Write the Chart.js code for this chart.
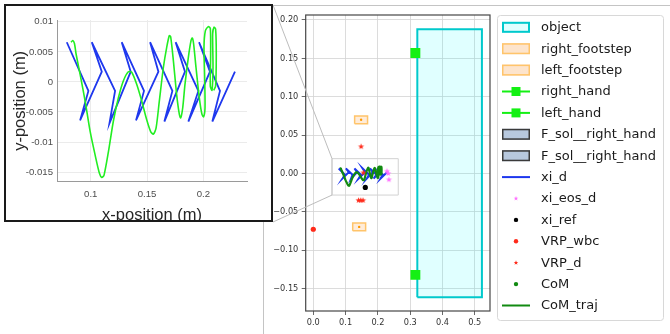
<!DOCTYPE html>
<html><head><meta charset="utf-8">
<script src="https://cdn.jsdelivr.net/npm/chart.js@4.4.0/dist/chart.umd.min.js"></script>
<style>
html,body{margin:0;padding:0;background:#fff;}
body{width:670px;height:334px;position:relative;overflow:hidden;}
#main{position:absolute;left:0;top:0;}
#insetBox{position:absolute;left:4px;top:4px;width:265px;height:214px;border:2px solid #1a1a1a;background:#fff;overflow:hidden;}
#inset{position:absolute;left:0;top:0;}
</style></head><body>
<canvas id="main" width="670" height="334"></canvas>
<div id="insetBox"><canvas id="inset" width="265" height="214"></canvas></div>
<script>
// ---------------- data ----------------
// xi_d (desired DCM) trajectory
const xiX = [0.0787,0.0979,0.0905,0.1098,0.1009,0.1216,0.1166,0.1355,0.1275,0.1473,0.1402,0.1601,0.1527,0.1725,0.1654,0.1837,0.1754,0.1956,0.1867,0.2059,0.1962,0.2148,0.2080,0.2281];
const xiY = [0.0066,-0.0015,-0.0064,0.0017,0.0066,-0.0015,-0.0069,0.0017,0.0066,-0.0015,-0.0064,0.0017,0.0066,-0.0015,-0.0066,0.0017,0.0066,-0.0015,-0.0066,0.0017,0.0066,-0.0015,-0.0066,0.0017];
// CoM trajectory
const comX = [0.0825,0.0840,0.0855,0.0870,0.0905,0.0950,0.0994,0.1038,0.1077,0.1098,0.1118,0.1157,0.1201,0.1246,0.1290,0.1334,0.1364,0.1408,0.1453,0.1497,0.1533,0.1556,0.1580,0.1609,0.1645,0.1675,0.1698,0.1710,0.1734,0.1763,0.1787,0.1799,0.1817,0.1837,0.1867,0.1891,0.1902,0.1914,0.1935,0.1964,0.1988,0.2003,0.2015,0.2012,0.2006,0.2018,0.2044,0.2062,0.2065,0.2062,0.2077,0.2086,0.2083,0.2095,0.2109,0.2115,0.2109,0.2092];
const comY = [0.0066,0.0069,0.0064,0.0046,0.0013,-0.0032,-0.0082,-0.0121,-0.0152,-0.0159,-0.0155,-0.0116,-0.0065,-0.0026,0.0002,0.0017,0.0016,-0.0004,-0.0032,-0.0063,-0.0083,-0.0087,-0.0077,-0.0032,0.0024,0.0058,0.0077,0.0075,0.0035,-0.0021,-0.0054,-0.0060,-0.0043,-0.0004,0.0041,0.0069,0.0073,0.0063,0.0024,-0.0026,-0.0054,-0.0058,-0.0043,0.0007,0.0058,0.0085,0.0092,0.0089,0.0046,-0.0007,-0.0014,0.0024,0.0080,0.0091,0.0088,0.0046,-0.0007,-0.0014];
// markers (x, y)
const handX = [0.316, 0.316];
const handY = [0.157, -0.132];
const vrpWbcX = [0.0];
const vrpWbcY = [-0.0725];
const vrpDX = [0.148, 0.140, 0.147, 0.154, 0.155];
const vrpDY = [0.035, -0.035, -0.035, -0.035, 0.001];
const xiEosX = [0.232, 0.234, 0.228];
const xiEosY = [0.000, -0.008, 0.003];
const xiRefX = [0.161];
const xiRefY = [-0.018];
const comDotX = [0.200];
const comDotY = [0.002];
const footCenterX = [0.148, 0.142];
const footCenterY = [0.070, -0.0695];
// rectangles [xmin, ymin, xmax, ymax]
const objectRect = [0.322, -0.161, 0.522, 0.188];
const rightFootRect = [0.122, -0.0745, 0.162, -0.0645];
const leftFootRect = [0.128, 0.065, 0.168, 0.075];
const zoomRect = [0.058, -0.028, 0.263, 0.0194];
// axes
const mainXTicks = [0.0, 0.1, 0.2, 0.3, 0.4, 0.5];
const mainXLabels = ['0.0', '0.1', '0.2', '0.3', '0.4', '0.5'];
const mainYTicks = [-0.15, -0.10, -0.05, 0.00, 0.05, 0.10, 0.15, 0.20];
const mainYLabels = ['\u22120.15', '\u22120.10', '\u22120.05', '0.00', '0.05', '0.10', '0.15', '0.20'];
const insetXTicks = [0.1, 0.15, 0.2];
const insetXLabels = ['0.1', '0.15', '0.2'];
const insetYTicks = [-0.015, -0.01, -0.005, 0, 0.005, 0.01];
const insetYLabels = ['-0.015', '-0.01', '-0.005', '0', '0.005', '0.01'];
const legendLabels = ['object', 'right_footstep', 'left_footstep', 'right_hand', 'left_hand', 'F_sol__right_hand', 'F_sol__right_hand', 'xi_d', 'xi_eos_d', 'xi_ref', 'VRP_wbc', 'VRP_d', 'CoM', 'CoM_traj'];

// ---------------- helpers ----------------
const pts = (xs, ys) => xs.map((x, i) => ({x: x, y: ys[i]}));
const rectPts = r => [{x:r[0],y:r[1]},{x:r[2],y:r[1]},{x:r[2],y:r[3]},{x:r[0],y:r[3]},{x:r[0],y:r[1]}];
function starPath(g, cx, cy, r) {
  g.beginPath();
  for (let i = 0; i < 10; i++) {
    const a = -Math.PI / 2 + i * Math.PI / 5;
    const rr = i % 2 ? r * 0.42 : r;
    const px = cx + rr * Math.cos(a), py = cy + rr * Math.sin(a);
    if (i) g.lineTo(px, py); else g.moveTo(px, py);
  }
  g.closePath();
}
function makeStar(color, r) {
  const c = document.createElement('canvas');
  const s = Math.ceil(r * 2 + 2);
  c.width = s; c.height = s;
  const g = c.getContext('2d');
  g.fillStyle = color; starPath(g, s / 2, s / 2, r); g.fill();
  return c;
}
const C = {
  cyan: '#00c9cc', cyanFill: 'rgba(0,255,255,0.12)',
  orange: '#ffc46a', orangeFill: 'rgba(255,170,80,0.22)',
  lime: '#14f014', blue: '#1c36ee', green: '#118a11',
  red: '#ff2a1a', pink: '#ff70ff', black: '#000'
};
const redStar = makeStar(C.red, 3.2);
const pinkStar = makeStar(C.pink, 3.2);

// ---------------- plugins ----------------
const bgPlugin = {
  id: 'bg',
  beforeDraw(chart) {
    const ctx = chart.ctx;
    ctx.save();
    ctx.fillStyle = '#fff';
    ctx.fillRect(0, 0, chart.width, chart.height);
    ctx.strokeStyle = '#c4c4c4'; ctx.lineWidth = 1;
    ctx.beginPath();
    ctx.moveTo(263.5, 5); ctx.lineTo(263.5, 334);
    ctx.moveTo(263, 5.5); ctx.lineTo(670, 5.5);
    ctx.stroke();
    ctx.restore();
  }
};
const spinePlugin = {
  id: 'spines',
  afterDatasetsDraw(chart) {
    const a = chart.chartArea, ctx = chart.ctx;
    ctx.save();
    ctx.strokeStyle = '#474747'; ctx.lineWidth = 1.2;
    ctx.strokeRect(a.left, a.top, a.right - a.left, a.bottom - a.top);
    ctx.restore();
  }
};
const connectorPlugin = {
  id: 'connectors',
  afterDraw(chart) {
    const sx = chart.scales.x, sy = chart.scales.y, ctx = chart.ctx;
    const x0 = sx.getPixelForValue(zoomRect[0]);
    const yTop = sy.getPixelForValue(zoomRect[3]);
    const yBot = sy.getPixelForValue(zoomRect[1]);
    ctx.save();
    ctx.strokeStyle = '#bdbdbd'; ctx.lineWidth = 1;
    ctx.beginPath();
    ctx.moveTo(273, 5); ctx.lineTo(x0, yTop);
    ctx.moveTo(273, 222); ctx.lineTo(x0, yBot);
    ctx.stroke();
    ctx.restore();
  }
};
function drawHandle(ctx, kind, x0, x1, cy) {
  const xm = (x0 + x1) / 2;
  ctx.save();
  if (kind === 'object' || kind === 'foot' || kind === 'fsol') {
    const fill = kind === 'object' ? '#e0ffff' : kind === 'foot' ? '#fde4cc' : '#b7c8de';
    const stroke = kind === 'object' ? C.cyan : kind === 'foot' ? C.orange : '#3a3a3a';
    const lw = kind === 'object' ? 2 : kind === 'foot' ? 1.5 : 1.5;
    ctx.fillStyle = fill; ctx.fillRect(x0, cy - 5.5, x1 - x0, 11);
    ctx.strokeStyle = stroke; ctx.lineWidth = lw;
    ctx.strokeRect(x0 + lw / 2, cy - 5.5 + lw / 2, x1 - x0 - lw, 11 - lw);
  } else if (kind === 'hand') {
    ctx.strokeStyle = C.lime; ctx.lineWidth = 2;
    ctx.beginPath(); ctx.moveTo(x0, cy); ctx.lineTo(x1, cy); ctx.stroke();
    ctx.fillStyle = C.lime; ctx.fillRect(xm - 4.5, cy - 4.5, 9, 9);
  } else if (kind === 'xid' || kind === 'comtraj') {
    ctx.strokeStyle = kind === 'xid' ? C.blue : C.green; ctx.lineWidth = 2;
    ctx.beginPath(); ctx.moveTo(x0, cy); ctx.lineTo(x1, cy); ctx.stroke();
  } else if (kind === 'pinkstar' || kind === 'redstar') {
    ctx.fillStyle = kind === 'pinkstar' ? C.pink : C.red;
    starPath(ctx, xm, cy, 2.4); ctx.fill();
  } else {
    ctx.fillStyle = kind === 'black' ? C.black : kind === 'red' ? C.red : C.green;
    ctx.beginPath(); ctx.arc(xm, cy, 2.2, 0, Math.PI * 2); ctx.fill();
  }
  ctx.restore();
}
const legendKinds = ['object', 'foot', 'foot', 'hand', 'hand', 'fsol', 'fsol', 'xid', 'pinkstar', 'black', 'red', 'redstar', 'greendot', 'comtraj'];
const legendPlugin = {
  id: 'legendBox',
  afterDraw(chart) {
    const ctx = chart.ctx;
    ctx.save();
    const bx = 497.5, by = 15.5, bw = 166, bh = 305, r = 3;
    ctx.beginPath();
    ctx.moveTo(bx + r, by); ctx.lineTo(bx + bw - r, by); ctx.arcTo(bx + bw, by, bx + bw, by + r, r);
    ctx.lineTo(bx + bw, by + bh - r); ctx.arcTo(bx + bw, by + bh, bx + bw - r, by + bh, r);
    ctx.lineTo(bx + r, by + bh); ctx.arcTo(bx, by + bh, bx, by + bh - r, r);
    ctx.lineTo(bx, by + r); ctx.arcTo(bx, by, bx + r, by, r); ctx.closePath();
    ctx.fillStyle = '#fff'; ctx.fill();
    ctx.strokeStyle = '#d8d8d8'; ctx.lineWidth = 1; ctx.stroke();
    legendLabels.forEach((lab, i) => {
      const cy = 27.3 + 21.4 * i;
      drawHandle(ctx, legendKinds[i], 502, 530, cy);
      ctx.fillStyle = '#1a1a1a';
      ctx.font = '13px "DejaVu Sans"';
      ctx.textBaseline = 'middle'; ctx.textAlign = 'left';
      ctx.fillText(lab, 541, cy + 0.5);
    });
    ctx.restore();
  }
};

// ---------------- main chart ----------------
const tickFontMain = {family: 'DejaVu Sans', size: 8.2};
new Chart(document.getElementById('main'), {
  type: 'line',
  data: {
    datasets: [
      {label: 'hands', data: pts(handX, handY), showLine: false, pointStyle: 'rect', pointRadius: 7, backgroundColor: C.lime, borderColor: C.lime, borderWidth: 0},
      {label: 'VRP_wbc', data: pts(vrpWbcX, vrpWbcY), showLine: false, pointRadius: 2.6, backgroundColor: C.red, borderColor: C.red, borderWidth: 0},
      {label: 'VRP_d', data: pts(vrpDX, vrpDY), showLine: false, pointStyle: redStar, pointRadius: 3},
      {label: 'xi_eos_d', data: pts(xiEosX, xiEosY), showLine: false, pointStyle: pinkStar, pointRadius: 3},
      {label: 'xi_ref', data: pts(xiRefX, xiRefY), showLine: false, pointRadius: 2.6, backgroundColor: C.black, borderColor: C.black, borderWidth: 0},
      {label: 'CoM', data: pts(comDotX, comDotY), showLine: false, pointRadius: 2.2, backgroundColor: C.green, borderColor: C.green, borderWidth: 0},
      {label: 'CoM_traj', data: pts(comX, comY), borderColor: C.green, borderWidth: 2.2, pointRadius: 0, tension: 0.25, fill: false},
      {label: 'xi_d', data: pts(xiX, xiY), borderColor: C.blue, borderWidth: 2, pointRadius: 0, tension: 0, fill: false},
      {label: 'foot centers', data: pts(footCenterX, footCenterY), showLine: false, pointRadius: 1.2, backgroundColor: '#ff9a00', borderWidth: 0},
      {label: 'right_footstep', data: rectPts(rightFootRect), borderColor: C.orange, borderWidth: 1.5, backgroundColor: C.orangeFill, fill: 'shape', pointRadius: 0, tension: 0},
      {label: 'left_footstep', data: rectPts(leftFootRect), borderColor: C.orange, borderWidth: 1.5, backgroundColor: C.orangeFill, fill: 'shape', pointRadius: 0, tension: 0},
      {label: 'object', data: rectPts(objectRect), borderColor: C.cyan, borderWidth: 2, backgroundColor: C.cyanFill, fill: 'shape', pointRadius: 0, tension: 0},
      {label: 'zoom', data: rectPts(zoomRect), borderColor: '#d2d2d2', borderWidth: 1, fill: false, pointRadius: 0, tension: 0}
    ]
  },
  options: {
    responsive: false, animation: false,
    layout: {padding: {left: 265.7, right: 180, top: 15, bottom: 3}},
    plugins: {legend: {display: false}, tooltip: {enabled: false}},
    scales: {
      x: {
        type: 'linear', min: -0.0235, max: 0.547,
        afterBuildTicks(s) { s.ticks = mainXTicks.map(v => ({value: v})); },
        afterFit(s) { s.height = 20; },
        ticks: {autoSkip: false, maxRotation: 0, font: tickFontMain, color: '#333', padding: 3, callback: (v, i) => mainXLabels[i]},
        grid: {color: '#d3d3d3', lineWidth: 0.8, drawTicks: true, tickLength: 4, tickColor: '#444'},
        border: {display: false}
      },
      y: {
        type: 'linear', min: -0.179, max: 0.2065,
        afterBuildTicks(s) { s.ticks = mainYTicks.map(v => ({value: v})); },
        afterFit(s) { s.width = 40; },
        ticks: {autoSkip: false, font: tickFontMain, color: '#333', padding: 3.4, callback: (v, i) => mainYLabels[i]},
        grid: {color: '#d3d3d3', lineWidth: 0.8, drawTicks: true, tickLength: 4, tickColor: '#444'},
        border: {display: false}
      }
    }
  },
  plugins: [bgPlugin, spinePlugin, connectorPlugin, legendPlugin]
});

// ---------------- inset chart ----------------
const insetTickFont = {family: 'Liberation Sans', size: 9.6};
new Chart(document.getElementById('inset'), {
  type: 'line',
  data: {
    datasets: [
      {label: 'CoM_traj', data: pts(comX, comY), borderColor: '#22ee22', borderWidth: 1.6, pointRadius: 0, tension: 0.25, fill: false},
      {label: 'xi_d', data: pts(xiX, xiY), borderColor: '#1f38ee', borderWidth: 1.8, pointRadius: 0, tension: 0, fill: false}
    ]
  },
  options: {
    responsive: false, animation: false,
    layout: {padding: {left: 2, right: 24, top: 14, bottom: 0}},
    plugins: {legend: {display: false}, tooltip: {enabled: false}},
    scales: {
      x: {
        type: 'linear', min: 0.070, max: 0.2388,
        afterBuildTicks(s) { s.ticks = insetXTicks.map(v => ({value: v})); },
        afterFit(s) { s.height = 38.3; },
        ticks: {autoSkip: false, maxRotation: 0, font: insetTickFont, color: '#4d4d4d', padding: 6.5, callback: (v, i) => insetXLabels[i]},
        grid: {color: '#ebebeb', lineWidth: 1, drawTicks: false},
        border: {display: true, color: '#9a9a9a', width: 1},
        title: {display: true, text: 'x-position (m)', color: '#262626', padding: {top: 0, bottom: 0}, font: {family: 'Liberation Sans', size: 16.5, lineHeight: 0.5}}
      },
      y: {
        type: 'linear', min: -0.0166, max: 0.0103,
        afterBuildTicks(s) { s.ticks = insetYTicks.map(v => ({value: v})); },
        afterFit(s) { s.width = 49; },
        ticks: {autoSkip: false, font: insetTickFont, color: '#4d4d4d', padding: 4, callback: (v, i) => insetYLabels[i]},
        grid: {color: '#ebebeb', lineWidth: 1, drawTicks: false},
        border: {display: true, color: '#9a9a9a', width: 1},
        title: {display: true, text: 'y-position (m)', color: '#262626', padding: {top: 4, bottom: 0}, font: {family: 'Liberation Sans', size: 16.5, lineHeight: 1}}
      }
    }
  }
});
</script>
</body></html>
